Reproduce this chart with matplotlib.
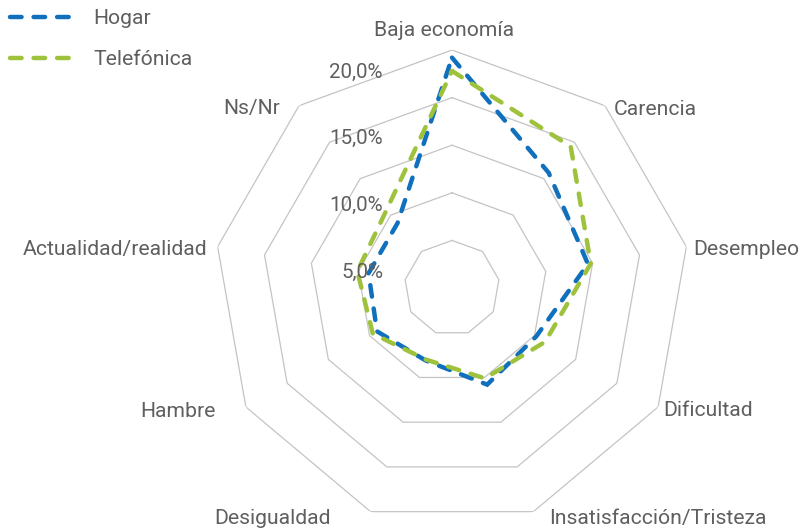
import numpy as np
import matplotlib
matplotlib.use("Agg")
from matplotlib import pyplot as plt

categories = ["Baja economía", "Carencia", "Desempleo", "Dificultad",
              "Insatisfacción/Tristeza", "Desigualdad", "Hambre",
              "Actualidad/realidad", "Ns/Nr"]
hogar = [24.2, 15.8, 14.5, 10.2, 10.8, 8.1, 9.1, 8.9, 8.9]
telefonica = [22.8, 19.4, 14.8, 11.3, 10.1, 8.0, 9.6, 10.1, 10.7]
rings = [5, 10, 15, 20, 25]
tick_values = [5, 10, 15, 20]

# label offsets (pixels) from the outer vertex, plus alignment
label_layout = [(-8, 20, "center"), (9, -4, "left"), (7, -3, "left"),
                (5, -3, "left"), (16, -7, "left"), (-40, -7, "right"),
                (-30, -4, "right"), (-10, -3, "right"), (-19, -3, "right")]

plt.rcParams['font.family'] = ['Roboto', 'DejaVu Sans']
text_color = '#5f5f5f'
blue = '#1070BD'
green = '#9EC23C'

fig = plt.figure(figsize=(8, 5.31), dpi=100)
ax = fig.add_axes([0.2675, 0.0094, 0.595, 0.8964], projection='polar')
ax.set_theta_zero_location('N')
ax.set_theta_direction(-1)
ax.set_ylim(0, 25)
ax.grid(False)
ax.spines['polar'].set_visible(False)
ax.set_xticks([])
ax.set_yticks([])
ax.patch.set_alpha(0)

n = len(categories)
angles = np.arange(n) * 2 * np.pi / n
closed = np.append(angles, angles[0])

for r in rings:
    ax.plot(closed, [r] * (n + 1), color='#C4C4C4', lw=0.9, zorder=1)

for vals, col, name in [(hogar, blue, 'Hogar'), (telefonica, green, 'Telefónica')]:
    ax.plot(closed, vals + vals[:1], color=col, lw=3.2, dashes=(2.6, 2.7),
            dash_capstyle='round', dash_joinstyle='miter', label=name, zorder=3)

for ang, name, (dx, dy, ha) in zip(angles, categories, label_layout):
    ax.annotate(name, xy=(ang, rings[-1]), xytext=(dx, dy), textcoords='offset pixels',
                ha=ha, va='center', fontsize=15.2, color=text_color, annotation_clip=False)

for i, v in enumerate(tick_values):
    y_px = 272 - 66.7 * i
    fig.text(383 / 800, 1 - y_px / 531, f"{v:.1f}%".replace('.', ','),
             ha='right', va='center', fontsize=14.8, color=text_color)

leg = ax.legend(loc='upper left', bbox_to_anchor=(0.012, 0.983), bbox_transform=fig.transFigure,
                frameon=False, fontsize=15.2, handlelength=3.35, handletextpad=0.6,
                labelspacing=1.05, borderpad=0, borderaxespad=0)
for t in leg.get_texts():
    t.set_color(text_color)

fig.savefig('out.png', dpi=100)
